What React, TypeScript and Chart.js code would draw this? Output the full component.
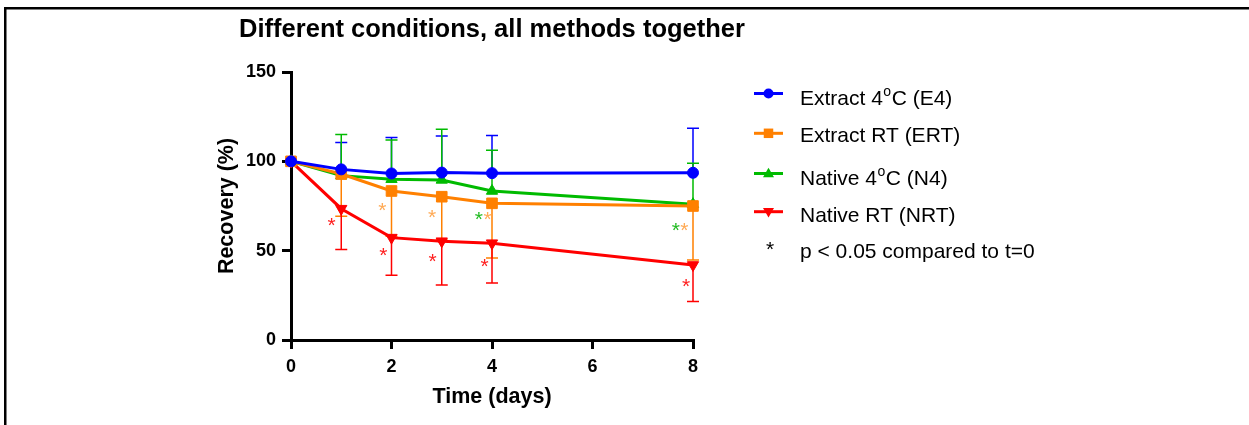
import { useEffect, useRef } from 'react';
import { Chart, registerables } from 'chart.js';

Chart.register(...registerables);

const FONT = '"Liberation Sans", Arial, Helvetica, sans-serif';

// ---------- text ----------
const chartTitle = 'Different conditions, all methods together';
const xAxisTitle = 'Time (days)';
const yAxisTitle = 'Recovery (%)';
const footnoteSymbol = '*';
const footnoteText = 'p < 0.05 compared to t=0';

// ---------- ticks ----------
const xTicks = [0, 2, 4, 6, 8];
const yTicks = [0, 50, 100, 150];

// ---------- data ----------
const days = [0, 1, 2, 3, 4, 8];

const e4Mean = [100, 95.5, 93.2, 93.7, 93.4, 93.6];
const e4Sd = [0, 15.1, 20.2, 20.5, 21.1, 24.9];

const ertMean = [100, 92.9, 83.4, 80.2, 76.5, 75.0];
const ertSd = [0, 23.7, 25.4, 24.2, 30.6, 30.2];

const n4Mean = [100, 92.0, 90.0, 89.6, 83.4, 76.0];
const n4Sd = [0, 23.0, 22.0, 28.3, 22.8, 22.9];

const nrtMean = [100, 73.5, 57.3, 55.3, 54.2, 42.0];
const nrtSd = [0, 22.8, 21.1, 24.5, 22.3, 20.4];

// legend labels: [before superscript, superscript, after superscript]
const e4Label = ['Extract 4', 'o', 'C (E4)'];
const ertLabel = ['Extract RT (ERT)', '', ''];
const n4Label = ['Native 4', 'o', 'C (N4)'];
const nrtLabel = ['Native RT (NRT)', '', ''];

// significance asterisks (p < 0.05 vs t=0): position in data units and series
const sigDays = [0.81, 1.82, 1.84, 2.81, 2.82, 3.74, 3.91, 3.85, 7.66, 7.83, 7.86];
const sigValues = [65.3, 73.7, 48.5, 70.0, 45.2, 69.0, 69.0, 42.5, 62.5, 62.5, 31.3];
const sigSeries = ['NRT', 'ERT', 'NRT', 'ERT', 'NRT', 'N4', 'ERT', 'NRT', 'N4', 'ERT', 'NRT'];

// ---------- styles ----------
const COLORS: Record<string, string> = {
  E4: '#0000ff',
  ERT: '#ff8000',
  N4: '#00bb00',
  NRT: '#ff0000',
};
const STAR_COLORS: Record<string, string> = {
  ERT: '#ffaa55',
  N4: '#22bb22',
  NRT: '#ff2020',
};

const series = [
  { key: 'E4', label: e4Label, mean: e4Mean, sd: e4Sd, dir: 1, style: 'circle', rot: 0, radius: 5.5 },
  { key: 'ERT', label: ertLabel, mean: ertMean, sd: ertSd, dir: -1, style: 'rect', rot: 0, radius: 7.5 },
  { key: 'N4', label: n4Label, mean: n4Mean, sd: n4Sd, dir: 1, style: 'triangle', rot: 0, radius: 6.5 },
  { key: 'NRT', label: nrtLabel, mean: nrtMean, sd: nrtSd, dir: -1, style: 'triangle', rot: 180, radius: 6.5 },
];

const STAR_OFFSET = 9;

const framePlugin = {
  id: 'frame',
  beforeDraw(chart: any) {
    const ctx = chart.ctx;
    ctx.save();
    ctx.fillStyle = '#ffffff';
    ctx.fillRect(0, 0, chart.width, chart.height);
    ctx.fillStyle = '#000000';
    ctx.fillRect(4, 7, chart.width, 2.5);
    ctx.fillRect(4, 7, 2.5, chart.height);
    ctx.restore();
  },
};

const titlePlugin = {
  id: 'customTitle',
  afterDraw(chart: any) {
    const ctx = chart.ctx;
    const { left, right } = chart.chartArea;
    ctx.save();
    ctx.fillStyle = '#000';
    ctx.font = `bold 25.5px ${FONT}`;
    ctx.textAlign = 'center';
    ctx.textBaseline = 'alphabetic';
    ctx.fillText(chartTitle, (left + right) / 2, 37);
    ctx.restore();
  },
};

const errorBarPlugin = {
  id: 'errorBars',
  beforeDatasetsDraw(chart: any) {
    const ctx = chart.ctx;
    const xs = chart.scales.x;
    const ys = chart.scales.y;
    ctx.save();
    ctx.lineWidth = 1.5;
    series.forEach((s) => {
      ctx.strokeStyle = COLORS[s.key];
      days.forEach((d, i) => {
        if (!s.sd[i]) return;
        const px = xs.getPixelForValue(d);
        const p1 = ys.getPixelForValue(s.mean[i]);
        const p2 = ys.getPixelForValue(s.mean[i] + s.dir * s.sd[i]);
        ctx.beginPath();
        ctx.moveTo(px, p1);
        ctx.lineTo(px, p2);
        ctx.moveTo(px - 6, p2);
        ctx.lineTo(px + 6, p2);
        ctx.stroke();
      });
    });
    ctx.restore();
  },
};

const starPlugin = {
  id: 'stars',
  afterDatasetsDraw(chart: any) {
    const ctx = chart.ctx;
    const xs = chart.scales.x;
    const ys = chart.scales.y;
    ctx.save();
    ctx.font = `21px ${FONT}`;
    ctx.textAlign = 'center';
    ctx.textBaseline = 'alphabetic';
    sigDays.forEach((d, i) => {
      ctx.fillStyle = STAR_COLORS[sigSeries[i]];
      ctx.fillText('*', xs.getPixelForValue(d), ys.getPixelForValue(sigValues[i]) + STAR_OFFSET);
    });
    ctx.restore();
  },
};

function drawMarker(ctx: CanvasRenderingContext2D, style: string, rot: number, x: number, y: number, size: number) {
  ctx.beginPath();
  if (style === 'circle') {
    ctx.arc(x, y, size / 2, 0, Math.PI * 2);
  } else if (style === 'rect') {
    ctx.rect(x - size / 2, y - size / 2, size, size);
  } else {
    const r = size / Math.sqrt(3);
    const a0 = (rot * Math.PI) / 180;
    for (let k = 0; k < 3; k++) {
      const a = a0 + (k * 2 * Math.PI) / 3;
      const px = x + Math.sin(a) * r;
      const py = y - Math.cos(a) * r;
      if (k === 0) ctx.moveTo(px, py);
      else ctx.lineTo(px, py);
    }
    ctx.closePath();
  }
  ctx.fill();
}

const legendPlugin = {
  id: 'customLegend',
  afterDraw(chart: any) {
    const ctx = chart.ctx;
    const lineYs = [93.5, 133.3, 173.5, 211.7];
    const baseYs = [105, 141.7, 185, 221.7];
    const x0 = 754;
    const x1 = 783;
    const tx = 800;
    ctx.save();
    series.forEach((s, i) => {
      const c = COLORS[s.key];
      ctx.strokeStyle = c;
      ctx.fillStyle = c;
      ctx.lineWidth = 3;
      ctx.beginPath();
      ctx.moveTo(x0, lineYs[i]);
      ctx.lineTo(x1, lineYs[i]);
      ctx.stroke();
      const size = s.style === 'circle' ? 10 : s.style === 'rect' ? 9.5 : 11;
      drawMarker(ctx, s.style, s.rot, (x0 + x1) / 2, lineYs[i] + (s.style === 'triangle' ? (s.rot ? -0.5 : 0.5) : 0), size);

      ctx.fillStyle = '#000';
      ctx.textAlign = 'left';
      ctx.textBaseline = 'alphabetic';
      ctx.font = `21px ${FONT}`;
      const [pre, sup, post] = s.label;
      let x = tx;
      ctx.fillText(pre, x, baseYs[i]);
      x += ctx.measureText(pre).width;
      if (sup) {
        ctx.font = `14px ${FONT}`;
        ctx.fillText(sup, x + 0.5, baseYs[i] - 9);
        x += ctx.measureText(sup).width + 1;
        ctx.font = `21px ${FONT}`;
      }
      if (post) ctx.fillText(post, x, baseYs[i]);
    });
    ctx.fillStyle = '#000';
    ctx.font = `21px ${FONT}`;
    ctx.textAlign = 'center';
    ctx.fillText(footnoteSymbol, 770, 246.7 + STAR_OFFSET);
    ctx.textAlign = 'left';
    ctx.fillText(footnoteText, 800, 258.3);
    ctx.restore();
  },
};

export default function App() {
  const ref = useRef<HTMLCanvasElement | null>(null);

  useEffect(() => {
    if (!ref.current) return;
    const tickFont = { family: FONT, size: 18, weight: 'bold' as const };
    const titleFont = { family: FONT, size: 21.5, weight: 'bold' as const };
    const chart = new Chart(ref.current, {
      type: 'line',
      data: {
        datasets: series.map((s) => ({
          label: s.key,
          data: days.map((d, i) => ({ x: d, y: s.mean[i] })),
          borderColor: COLORS[s.key],
          backgroundColor: COLORS[s.key],
          borderWidth: 3,
          tension: 0,
          pointStyle: s.style as any,
          pointRotation: s.rot,
          pointRadius: s.radius,
          pointBorderWidth: 1,
          pointBorderColor: COLORS[s.key],
          pointBackgroundColor: COLORS[s.key],
          clip: false as any,
        })),
      },
      options: {
        responsive: false,
        animation: false,
        devicePixelRatio: 1,
        layout: { padding: { left: 214, top: 72, right: 556, bottom: 0 } },
        plugins: {
          legend: { display: false },
          title: { display: false },
          tooltip: { enabled: false },
        },
        scales: {
          x: {
            type: 'linear',
            min: 0,
            max: 8,
            afterBuildTicks: (s: any) => {
              s.ticks = xTicks.map((v) => ({ value: v }));
            },
            afterFit: (s: any) => {
              s.height = 85;
            },
            grid: { drawOnChartArea: false, drawTicks: true, tickLength: 9, color: '#000', lineWidth: 3 },
            border: { display: true, color: '#000', width: 3 },
            ticks: { color: '#000', font: tickFont, padding: 7, maxRotation: 0, autoSkip: false },
            title: { display: true, text: xAxisTitle, color: '#000', font: titleFont, padding: { top: 0, bottom: 15 } },
          },
          y: {
            type: 'linear',
            min: 0,
            max: 150,
            afterBuildTicks: (s: any) => {
              s.ticks = yTicks.map((v) => ({ value: v }));
            },
            afterFit: (s: any) => {
              s.width = 77;
            },
            grid: { drawOnChartArea: false, drawTicks: true, tickLength: 9, color: '#000', lineWidth: 3 },
            border: { display: true, color: '#000', width: 3 },
            ticks: { color: '#000', font: tickFont, padding: 6, autoSkip: false },
            title: { display: true, text: yAxisTitle, color: '#000', font: titleFont, padding: { top: 0, bottom: 0 } },
          },
        },
      },
      plugins: [framePlugin, errorBarPlugin, starPlugin, titlePlugin, legendPlugin],
    });
    return () => chart.destroy();
  }, []);

  return (
    <div style={{ position: 'fixed', left: 0, top: 0, width: 1249, height: 425, overflow: 'hidden', background: '#fff' }}>
      <canvas ref={ref} width={1249} height={425} style={{ display: 'block' }} />
    </div>
  );
}
